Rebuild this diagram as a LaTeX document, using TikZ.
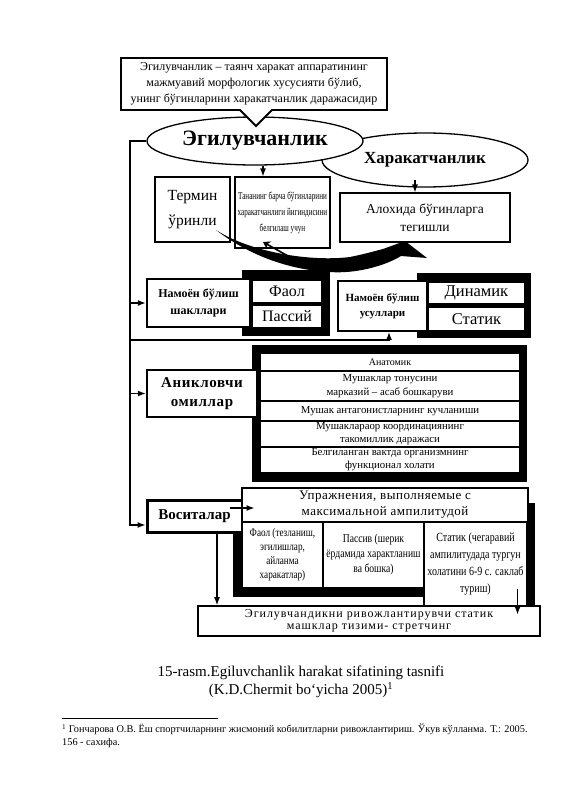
\documentclass[tikz,border=0pt]{standalone}
\usepackage{fontspec}
\setmainfont{Liberation Serif}
\newfontfamily\narrowfont[FakeStretch=0.8]{Liberation Serif}
\newfontfamily\tightfont[FakeStretch=0.68]{Liberation Serif}
\newfontfamily\widefont[LetterSpace=8]{Liberation Serif}
\newfontfamily\semiwidefont[LetterSpace=4]{Liberation Serif}
\usetikzlibrary{shapes.geometric,arrows.meta}
\newcommand{\fsz}[2]{\fontsize{#1}{#2}\selectfont}
\tikzset {
    plain box/.style={
        draw=black,
        fill=white,
        line width=1.1pt,
        rectangle, % white box, thin border
        inner sep=0pt,
        align=center,
    },
    bold box/.style={
        plain box,
        line width=2.4pt,
        font=\bfseries,
    },
    oval/.style={
        draw=black,
        fill=white,
        line width=1.3pt,
        ellipse,
        inner sep=0pt,
        font=\bfseries,
    },
    link/.style={
        line width=1.3pt,
        -{Latex[length=8pt,width=6pt]},
    },
}

\begin{document}
\begin{tikzpicture}[x=1pt,y=-1pt]
\fill[white] (0,0) rectangle (565,800);
\useasboundingbox (0,0) rectangle (565,800);

% ellipses and the definition
\node[oval, minimum width=206pt, minimum height=54pt, font=\bfseries\fsz{17}{20}] at (425,160) (move) {Харакатчанлик};
\node[oval, minimum width=216pt, minimum height=48pt, font=\bfseries\fsz{22}{26}] at (255,141) (flex) {Эгилувчанлик};
\draw[line width=1.8pt, fill=white] (121,58) -- (387,58) -- (387,110) -- (272,110) -- (256,126) -- (240,110) -- (121,110) -- cycle;
\node[align=center, font=\fsz{12}{16}] at (254,84) (defn) {Эгилувчанлик – таянч харакат аппаратининг\\ мажмуавий морфологик хусусияти бўлиб,\\ унинг бўгинларини харакатчанлик даражасидир};

% first row
\node[plain box, minimum width=75pt, minimum height=65pt, font=\fsz{15.5}{25}] at (192.5,209.5) (term) {Термин\\ ўринли};
\node[plain box, minimum width=95pt, minimum height=71pt, font=\tightfont\fsz{10.5}{16}] at (282.5,212.5) (whole) {Тананинг барча бўгинларини\\ харакатчанлиги йигиндисини\\ белгилаш учун};
\node[plain box, minimum width=170pt, minimum height=49pt, font=\fsz{13.5}{18}] at (425,217.5) (single) {Алохида бўгинларга\\ тегишли};

% swoosh
\fill (216,230) .. controls (250,252) and (310,262) .. (350,257) .. controls (365,254) and (375,251) .. (383,249) -- (405,241) -- (427,258) -- (401,256) .. controls (385,266) and (355,274) .. (330,272) .. controls (290,270) and (250,256) .. cycle;
\draw[line width=1.6pt, -{Stealth[length=7pt,width=9pt]}] (288,256) -- (263,242);

% second row
\fill (242,270) rectangle (330,336);
\fill (417,273) rectangle (531,338);
\node[bold box, minimum width=103pt, minimum height=48pt, font=\bfseries\fsz{12}{17}] at (198.5,303) (forms) {Намоён бўлиш\\ шакллари};
\node[plain box, minimum width=70pt, minimum height=23pt, font=\fsz{16}{18}] at (287,291.5) (active) {Фаол};
\node[plain box, minimum width=70pt, minimum height=23pt, font=\fsz{16}{18}] at (287,316.5) (passive) {Пассий};
\node[bold box, line width=1.8pt, minimum width=89pt, minimum height=50pt, font=\bfseries\fsz{11}{15}] at (382.5,306) (ways) {Намоён бўлиш\\ усуллари};
\node[plain box, minimum width=97pt, minimum height=22pt, font=\fsz{16.5}{18}] at (476.5,293) (dynamic) {Динамик};
\node[plain box, minimum width=97pt, minimum height=24pt, font=\fsz{16.5}{18}] at (476.5,319) (static) {Статик};

% third row
\fill (252,345) rectangle (527,482);
\node[plain box, minimum width=260pt, minimum height=18pt, font=\fsz{10}{13}] at (390,362) (anat) {Анатомик};
\node[plain box, minimum width=260pt, minimum height=30pt, font=\fsz{10.8}{14}] at (390,386) (tone) {Мушаклар тонусини\\ марказий – асаб бошкаруви};
\node[plain box, minimum width=260pt, minimum height=20pt, font=\fsz{10.8}{14}] at (390,411) (antag) {Мушак антагонистларнинг кучланиши};
\node[plain box, minimum width=260pt, minimum height=26pt, font=\fsz{10.8}{13}] at (390,434) (coord) {Мушаклараор координациянинг\\ такомиллик даражаси};
\node[plain box, minimum width=260pt, minimum height=26pt, font=\fsz{10.8}{13}] at (390,460) (state) {Белгиланган вактда организмнинг\\ функционал холати};
\node[bold box, minimum width=110pt, minimum height=47pt, font=\bfseries\semiwidefont\fsz{15}{19}] at (202,393.5) (factors) {Аникловчи\\ омиллар};

% fourth row
\fill (233,503) rectangle (535,597);
\fill (527,597) rectangle (535,606);
\node[bold box, line width=3pt, minimum width=95pt, minimum height=32pt, font=\bfseries\fsz{15}{18}] at (194.5,516) (means) {Воситалар};
\node[plain box, line width=1.6pt, minimum width=286pt, minimum height=34pt, font=\semiwidefont\fsz{13}{16}] at (385,505) (ampl) {Упражнения, выполняемые с\\ максимальной ампилитудой};
\node[plain box, minimum width=81pt, minimum height=66pt, font=\narrowfont\fsz{11.5}{14}] at (282.5,555) (act) {Фаол (тезланиш,\\ эгилишлар,\\ айланма\\ харакатлар)};
\node[plain box, minimum width=101pt, minimum height=66pt, font=\narrowfont\fsz{12}{15}] at (373.5,555) (pas) {Пассив (шерик\\ ёрдамида характланиш\\ ва бошка)};
\node[plain box, minimum width=103pt, minimum height=84pt, font=\narrowfont\fsz{12.5}{17}] at (475.5,564) (stat) {Статик (чегаравий\\ ампилитудада тургун\\ холатини 6-9 с. саклаб\\ туриш)};
\node[plain box, line width=1.6pt, minimum width=342pt, minimum height=30pt, font=\widefont\fsz{12}{12.5}] at (369,621) (stretch) {Эгилувчандикни ривожлантирувчи статик\\ машклар тизими- стретчинг};

% connectors
\coordinate (spine) at (130,0);
\coordinate (spine end) at (130,525);
\coordinate (branch) at (130,340);
\draw[link] (flex.west) -| (spine end) -- (spine end -| means.west);
\draw[link] (spine |- forms.west) -- (forms.west);
\draw[link] (spine |- factors.west) -- (factors.west);
\draw[link] (branch) -| ([xshift=6.5pt]ways.south);
\draw[link] ([xshift=8pt]flex.south) -- ([xshift=8pt]flex.south |- whole.north);
\draw[link] ([xshift=-10pt,yshift=8pt]move.south) -- ([xshift=-10pt]move.south |- single.north);
\draw[link] ([xshift=-14pt,yshift=8pt]means.east) -- ++(25,0);
\draw[link] ([xshift=22.5pt]means.south) -- ([xshift=22.5pt]means.south |- stretch.north);
\draw[link] ([xshift=-10pt,yshift=18pt]stat.south east) -- ([xshift=-10pt,yshift=-8pt]stat.south east);

% caption and footnote
\node[align=center, font=\fsz{15}{18}] at (301,682) (caption) {15-rasm.Egiluvchanlik harakat sifatining tasnifi\\ (K.D.Chermit bo‘yicha 2005)\textsuperscript{1}};
\coordinate (rule start) at (62,718);
\coordinate (rule end) at (218,718);
\draw[line width=0.8pt] (rule start) -- (rule end);
\node[anchor=north west, align=left, font=\fsz{10.3}{12.5}, inner sep=0pt] at (62,724) (note) {\textsuperscript{1} Гончарова О.В. Ёш спортчиларнинг жисмоний кобилитларни ривожлантириш. Ўкув кўлланма. Т.: 2005.\\ 156 - сахифа.};
\end{tikzpicture}
\end{document}
